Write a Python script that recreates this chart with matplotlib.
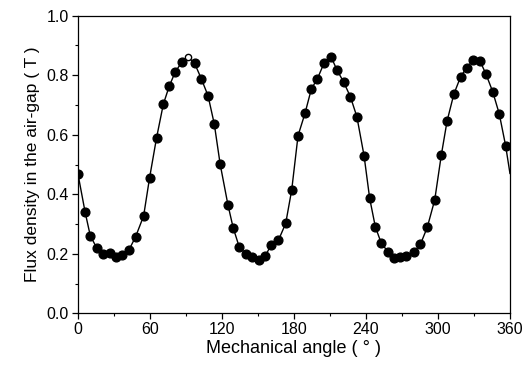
import matplotlib
matplotlib.use("Agg")
import matplotlib.pyplot as plt
from matplotlib.ticker import MultipleLocator

plt.rcParams['font.family'] = ['Liberation Sans', 'DejaVu Sans']

angle = [0, 6, 10.3, 15.9, 20.9, 26.4, 32, 37, 42.5, 48, 54.7, 59.7, 65.5, 71.1, 76.1, 81.2, 86.4, 92,
         97.2, 102.8, 108.4, 113.6, 118.5, 125, 129.3, 134.3, 139.8, 145.3, 150.9, 156, 161, 167.1,
         173.1, 178.1, 183.4, 189.2, 194.5, 199.5, 205, 211.1, 215.8, 221.4, 227, 232.4, 238.4, 243.1,
         247.8, 252.8, 258.4, 263.4, 268.1, 273.6, 279.8, 285.4, 291.1, 297.3, 302.8, 307.6, 313.2,
         318.9, 323.9, 329.4, 335, 340, 345.6, 351.1, 356.4]
flux = [0.468, 0.339, 0.26, 0.218, 0.198, 0.204, 0.19, 0.196, 0.213, 0.257, 0.327, 0.456, 0.59, 0.702,
        0.764, 0.812, 0.843, 0.86, 0.84, 0.788, 0.731, 0.636, 0.501, 0.364, 0.288, 0.224, 0.20, 0.19,
        0.179, 0.192, 0.23, 0.246, 0.302, 0.414, 0.597, 0.672, 0.754, 0.788, 0.84, 0.86, 0.818, 0.777,
        0.728, 0.661, 0.53, 0.386, 0.291, 0.235, 0.207, 0.187, 0.188, 0.192, 0.205, 0.232, 0.289, 0.381,
        0.532, 0.646, 0.736, 0.795, 0.825, 0.851, 0.848, 0.804, 0.745, 0.67, 0.563]
# curve end at the right border
curve_end_angle = 360
curve_end_flux = 0.47
open_index = 17  # the peak point drawn as a hollow marker

fig = plt.figure(figsize=(5.29, 3.67), dpi=100)
ax = fig.add_axes([0.1474, 0.1463, 0.8166, 0.8109])

ax.plot(angle + [curve_end_angle], flux + [curve_end_flux], color='black', lw=1.0, zorder=2)
fx = [a for i, a in enumerate(angle) if i != open_index]
fy = [f for i, f in enumerate(flux) if i != open_index]
ax.plot(fx, fy, 'o', color='black', ms=6.3, zorder=3)
ax.plot([angle[open_index]], [flux[open_index]], 'o', mfc='white', mec='black', ms=4.5, mew=1.0, zorder=3)

ax.set_xlim(0, 360)
ax.set_ylim(0, 1.0)
ax.xaxis.set_major_locator(MultipleLocator(60))
ax.xaxis.set_minor_locator(MultipleLocator(30))
ax.yaxis.set_major_locator(MultipleLocator(0.2))
ax.yaxis.set_minor_locator(MultipleLocator(0.1))
ax.yaxis.set_major_formatter(matplotlib.ticker.FormatStrFormatter('%.1f'))
ax.tick_params(which='major', direction='out', length=4, width=0.9, labelsize=11.5, colors='black', pad=2.5)
ax.tick_params(which='minor', direction='out', length=2.5, width=0.8)
for s in ax.spines.values():
    s.set_linewidth(0.9)

ax.set_xlabel('Mechanical angle ( ° )', fontsize=13, labelpad=2)
ax.set_ylabel('Flux density in the air-gap ( T )', fontsize=12.5, labelpad=5)

fig.savefig('out.png', dpi=100)
